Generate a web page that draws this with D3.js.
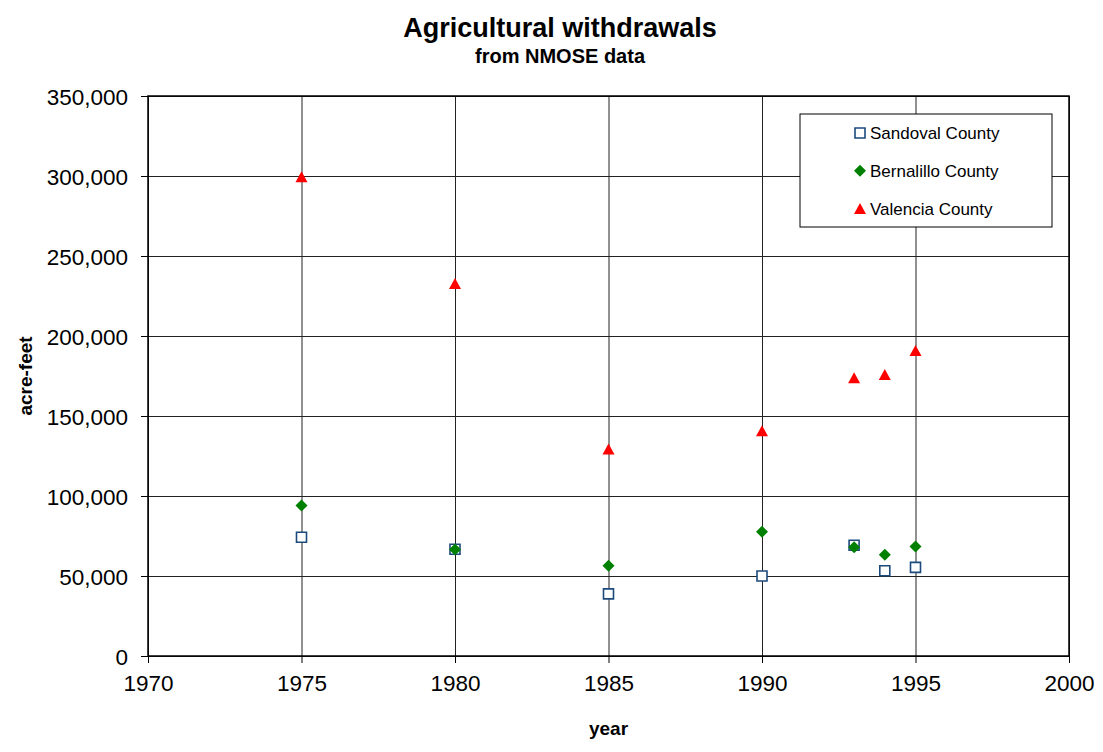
<!doctype html>
<html lang="en">
  <head>
    <meta charset="UTF-8" />
    <title>Agricultural withdrawals</title>
    <script src="https://unpkg.com/d3@7.9.0/dist/d3.min.js"></script>
    <style>
      body {
        margin: 0;
        background: #fff;
        font-family: 'Liberation Sans', Arial, sans-serif;
        overflow: hidden;
      }
      .tick text {
        font-size: 22.5px;
        fill: #000;
        font-family: 'Liberation Sans', Arial, sans-serif;
      }
      .tick line {
        stroke: #000;
      }
      .grid line {
        stroke: #222;
        stroke-width: 1;
      }
      .grid path {
        display: none;
      }
      .axis-label {
        font-size: 19px;
        font-weight: bold;
      }
    </style>
  </head>
  <body>
    <svg width="1103" height="752"></svg>

    <script>
      const years = [1975, 1980, 1985, 1990, 1993, 1994, 1995];
      const sandoval = [74200, 66700, 38800, 50000, 69200, 53300, 55400];
      const bernalillo = [94000, 66600, 56400, 77700, 67900, 63300, 68500];
      const valencia = [299600, 232800, 129400, 140800, 173900, 175900, 190900];
      const seriesNames = ['Sandoval County', 'Bernalillo County', 'Valencia County'];
      const xTicks = [1970, 1975, 1980, 1985, 1990, 1995, 2000];
      const yTicks = [0, 50000, 100000, 150000, 200000, 250000, 300000, 350000];

      const margin = { top: 96, right: 34, bottom: 96, left: 148 },
        width = 1103 - margin.left - margin.right,
        height = 752 - margin.top - margin.bottom;

      const root = d3.select('svg');
      const svg = root
        .append('g')
        .attr('transform', `translate(${margin.left},${margin.top})`);

      const x = d3.scaleLinear().domain([1970, 2000]).range([0, width]);
      const y = d3.scaleLinear().domain([0, 350000]).range([height, 0]);

      // grid
      svg
        .append('g')
        .attr('class', 'grid')
        .call(d3.axisLeft(y).tickValues(yTicks).tickSize(-width).tickFormat(''));
      svg
        .append('g')
        .attr('class', 'grid')
        .attr('transform', `translate(0,${height})`)
        .call(d3.axisBottom(x).tickValues(xTicks).tickSize(-height).tickFormat(''));

      // axes
      const xAxis = svg
        .append('g')
        .attr('transform', `translate(0,${height})`)
        .call(d3.axisBottom(x).tickValues(xTicks).tickSize(7).tickPadding(12).tickFormat(d3.format('d')));
      xAxis.select('.domain').remove();

      const yAxis = svg
        .append('g')
        .call(d3.axisLeft(y).tickValues(yTicks).tickSize(7).tickPadding(13).tickFormat(d3.format(',')));
      yAxis.select('.domain').remove();
      yAxis.selectAll('.tick text').attr('dy', '0.36em');

      // plot border
      svg
        .append('rect')
        .attr('width', width)
        .attr('height', height)
        .attr('fill', 'none')
        .attr('stroke', '#000')
        .attr('stroke-width', 1.5);

      const square = 'M-5,-5H5V5H-5Z';
      const diamond = 'M0,-6L6,0L0,6L-6,0Z';
      const triangle = 'M0,-5.5L6,5.5L-6,5.5Z';

      const styles = [
        { data: sandoval, path: square, fill: '#fff', stroke: '#1c4a7c', sw: 1.6 },
        { data: bernalillo, path: diamond, fill: '#008000', stroke: 'none', sw: 0 },
        { data: valencia, path: triangle, fill: '#ff0000', stroke: 'none', sw: 0 },
      ];

      styles.forEach((s) => {
        svg
          .append('g')
          .selectAll('path')
          .data(years.map((yr, i) => ({ year: yr, value: s.data[i] })))
          .enter()
          .append('path')
          .attr('d', s.path)
          .attr('transform', (d) => `translate(${x(d.year)},${y(d.value)})`)
          .attr('fill', s.fill)
          .attr('stroke', s.stroke)
          .attr('stroke-width', s.sw);
      });

      // legend
      const legend = root.append('g').attr('transform', 'translate(800,114)');
      legend
        .append('rect')
        .attr('width', 252)
        .attr('height', 113)
        .attr('fill', '#fff')
        .attr('stroke', '#000')
        .attr('stroke-width', 1);
      const item = legend
        .selectAll('.item')
        .data(seriesNames)
        .enter()
        .append('g')
        .attr('transform', (d, i) => `translate(60,${19 + i * 37.7})`);
      item
        .append('path')
        .attr('d', (d, i) => styles[i].path)
        .attr('fill', (d, i) => styles[i].fill)
        .attr('stroke', (d, i) => styles[i].stroke)
        .attr('stroke-width', (d, i) => styles[i].sw);
      item
        .append('text')
        .attr('x', 10)
        .attr('dy', '0.36em')
        .style('font-size', '17px')
        .text((d) => d);

      // titles
      root
        .append('text')
        .attr('x', 560)
        .attr('y', 37)
        .attr('text-anchor', 'middle')
        .style('font-size', '27px')
        .style('font-weight', 'bold')
        .text('Agricultural withdrawals');
      root
        .append('text')
        .attr('x', 560)
        .attr('y', 63)
        .attr('text-anchor', 'middle')
        .style('font-size', '20px')
        .style('font-weight', 'bold')
        .text('from NMOSE data');

      root
        .append('text')
        .attr('class', 'axis-label')
        .attr('x', margin.left + width / 2)
        .attr('y', 735)
        .attr('text-anchor', 'middle')
        .text('year');
      root
        .append('text')
        .attr('class', 'axis-label')
        .attr('transform', `translate(32,${margin.top + height / 2}) rotate(-90)`)
        .attr('text-anchor', 'middle')
        .text('acre-feet');
    </script>
  </body>
</html>
